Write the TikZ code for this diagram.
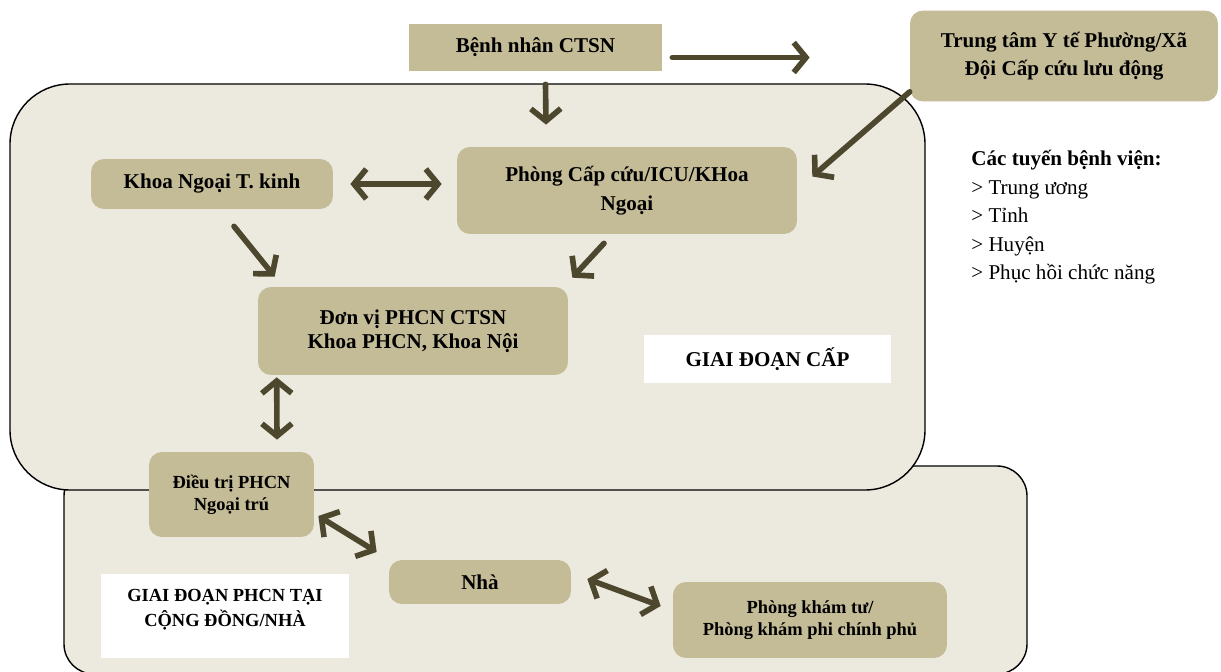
\documentclass[tikz,border=0pt]{standalone}
\usepackage{fontspec}
\setmainfont{Liberation Serif}
\usepackage{tikz}
\usetikzlibrary{calc,arrows.meta}

\definecolor{boxtan}{RGB}{196,187,151}
\definecolor{stagebg}{RGB}{236,233,223}
\definecolor{arrowdk}{RGB}{77,71,45}

\begin{document}
\begin{tikzpicture}[x=0.02cm,y=-0.02cm,
    unit/.style={fill=boxtan, rounded corners=0.26cm, align=center, inner sep=2pt,
      font=\fontsize{12}{15}\selectfont\bfseries},
    small unit/.style={unit, font=\fontsize{10.5}{12.5}\selectfont\bfseries},
    stage/.style={draw=black, line width=0.8pt, fill=stagebg, rounded corners=#1},
    label box/.style={fill=white, align=center, inner sep=2pt,
      font=\fontsize{12}{15}\selectfont\bfseries},
    flow/.style={draw=arrowdk, line width=3.2pt, line cap=round,
      -{Straight Barb[length=7pt,width=17pt]}},
    twoway/.style={flow, {Straight Barb[length=7pt,width=17pt]}-{Straight Barb[length=7pt,width=17pt]}}]
  \useasboundingbox (0,0) rectangle (1221,672);

  %% Stage regions (community behind, acute in front)
  \draw[stage=0.6cm] (64,466) rectangle (1027,674);
  \draw[stage=1.2cm] (10,84) rectangle (925,490);

  %% Units
  \node[unit, rounded corners=0pt, minimum width=5.06cm, minimum height=0.94cm]
    (patient) at (535.5,47.5) {Bệnh nhân CTSN};
  \node[unit, minimum width=6.16cm, minimum height=1.82cm,
    font=\fontsize{12}{16}\selectfont\bfseries]
    (ward) at (1064,56) {Trung tâm Y tế Phường/Xã\\Đội Cấp cứu lưu động};
  \node[unit, minimum width=6.8cm, minimum height=1.74cm,
    font=\fontsize{12}{16.5}\selectfont\bfseries]
    (emerg) at (627,190.5) {Phòng Cấp cứu/ICU/KHoa\\Ngoại};
  \node[unit, minimum width=4.84cm, minimum height=1.0cm]
    (neuro) at (212,184) {Khoa Ngoại T. kinh};
  \node[unit, minimum width=6.2cm, minimum height=1.76cm,
    font=\fontsize{12}{13.8}\selectfont\bfseries]
    (rehab) at (413,331) {Đơn vị PHCN CTSN\\Khoa PHCN, Khoa Nội};
  \node[label box, minimum width=4.94cm, minimum height=0.96cm]
    (acute) at (767.5,359) {GIAI ĐOẠN CẤP};
  \node[small unit, minimum width=3.3cm, minimum height=1.7cm]
    (outpt) at (231.5,494.5) {Điều trị PHCN\\Ngoại trú};
  \node[unit, minimum width=3.64cm, minimum height=0.88cm]
    (home) at (480,582) {Nhà};
  \node[small unit, minimum width=5.48cm, minimum height=1.52cm]
    (clinic) at (810,620) {Phòng khám tư/\\Phòng khám phi chính phủ};
  \node[label box, minimum width=4.96cm, minimum height=1.68cm,
    font=\fontsize{10.5}{14}\selectfont\bfseries]
    (community) at (225,616) {GIAI ĐOẠN PHCN TẠI\\CỘNG ĐỒNG/NHÀ\\[-5pt]};

  %% Hospital levels
  \node[anchor=north west, align=left, inner sep=0pt,
    font=\fontsize{12}{16.2}\selectfont]
    (levels) at (971,150) {\textbf{Các tuyến bệnh viện:}\\> Trung ương\\> Tỉnh\\> Huyện\\> Phục hồi chức năng};

  %% One-way arrows
  \draw[flow] ($(patient.east)+(10,10)$) -- ($(ward.west)+(-100,1.5)$);
  \draw[flow] ($(patient.south)+(10,13)$) -- ($(emerg.north)+(-81,-22)$);
  \draw[flow] ($(ward.south west)+(0,-10)$) -- ($(emerg.east)+(15,-14)$);
  \draw[flow] ($(neuro.south)+(22,17)$) -- ($(rehab.north west)+(17,-10)$);
  \draw[flow] ($(emerg.south)+(-23,9)$) -- ($(rehab.north east)+(4,-9)$);

  %% Two-way arrows
  \foreach \src/\sofs/\dst/\dofs in {neuro.east/{17,0}/emerg.west/{-15,-6.5},
      rehab.south west/{19,2}/outpt.north/{45.5,-12},
      outpt.east/{4,21.5}/home.west/{-12,-30},
      home.east/{16,-3}/clinic.west/{-12,-14}}
  {
    \draw[twoway] ($(\src)+(\sofs)$) -- ($(\dst)+(\dofs)$);
  }
\end{tikzpicture}
\end{document}
